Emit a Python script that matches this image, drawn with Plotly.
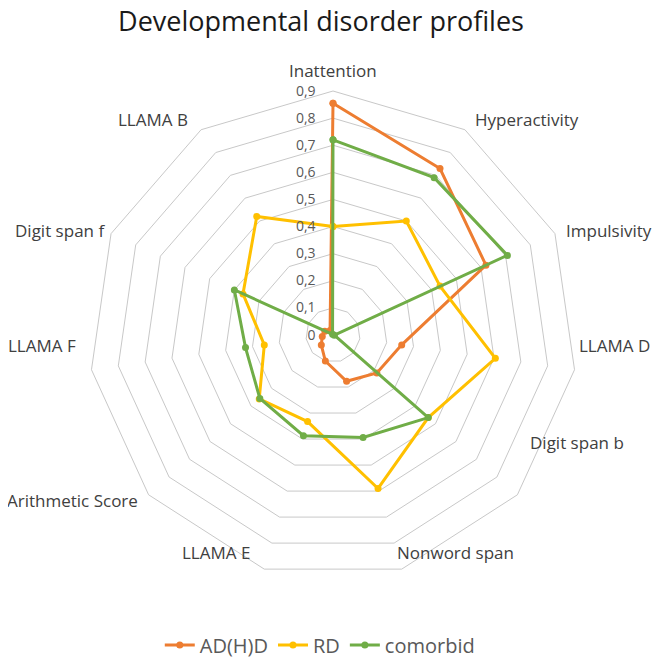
import plotly.graph_objects as go

categories = ["Inattention", "Hyperactivity", "Impulsivity", "LLAMA D", "Digit span b",
              "Nonword span", "LLAMA E", "Arithmetic Score", "LLAMA F", "Digit span f", "LLAMA B"]

adhd = [0.855, 0.73, 0.62, 0.256, 0.214, 0.178, 0.10, 0.057, 0.04, 0.033, 0.02]
rd = [0.40, 0.50, 0.434, 0.605, 0.465, 0.59, 0.333, 0.36, 0.256, 0.365, 0.52]
comorbid = [0.72, 0.69, 0.707, 0.005, 0.465, 0.394, 0.387, 0.357, 0.326, 0.40, 0.003]

tick_vals = [0, 0.1, 0.2, 0.3, 0.4, 0.5, 0.6, 0.7, 0.8, 0.9]
tick_text = ["0", "0,1", "0,2", "0,3", "0,4", "0,5", "0,6", "0,7", "0,8", "0,9"]

series = [("AD(H)D", adhd, "#ED7D31"), ("RD", rd, "#FFC000"), ("comorbid", comorbid, "#70AD47")]

# the page body has an 8px margin, so the figure is drawn 8px smaller
W, H = 655, 650

fig = go.Figure()
for name, vals, col in series:
    fig.add_trace(go.Scatterpolar(
        r=vals + vals[:1],
        theta=categories + categories[:1],
        mode="lines+markers",
        name=name,
        line=dict(color=col, width=3),
        marker=dict(color=col, size=7),
    ))

# category labels placed like Excel does (pixel positions in the figure)
label_pos = [(325, 62), (519, 112), (601, 222), (606, 337), (569, 435), (447, 544),
             (208, 544), (64, 492), (34, 337), (52, 222), (145, 112)]
for cat, (px, py) in zip(categories, label_pos):
    fig.add_annotation(text=cat, x=px / W, y=1 - py / H, xref="paper", yref="paper",
                       showarrow=False, xanchor="center", yanchor="middle",
                       font=dict(size=17, color="#404040"))

fig.update_layout(
    width=W, height=H,
    paper_bgcolor="white",
    font=dict(family="Open Sans", color="#404040"),
    title=dict(text="Developmental disorder profiles", x=313 / W, xanchor="center",
               y=1 - 4 / H, yanchor="top", font=dict(size=27, color="#1a1a1a")),
    margin=dict(l=0, r=0, t=0, b=0, autoexpand=False),
    polar=dict(
        domain=dict(x=[81 / W, 569 / W], y=[1 - 571 / H, 1 - 83 / H]),
        gridshape="linear",
        bgcolor="white",
        radialaxis=dict(range=[0, 0.9], tickvals=tick_vals, ticktext=tick_text,
                        angle=90, tickangle=90, showline=False,
                        ticks="outside", ticklen=12, tickcolor="rgba(0,0,0,0)",
                        gridcolor="#c8c8c8", gridwidth=1, side="counterclockwise",
                        tickfont=dict(size=14, color="#595959")),
        angularaxis=dict(direction="clockwise", rotation=90, showgrid=False,
                         showline=True, linecolor="#c8c8c8", linewidth=1, ticks="",
                         showticklabels=False),
    ),
    legend=dict(orientation="h", x=0.476, xanchor="center", y=0.02, yanchor="middle",
                font=dict(size=20, color="#595959")),
)

fig.write_html("out.html")
